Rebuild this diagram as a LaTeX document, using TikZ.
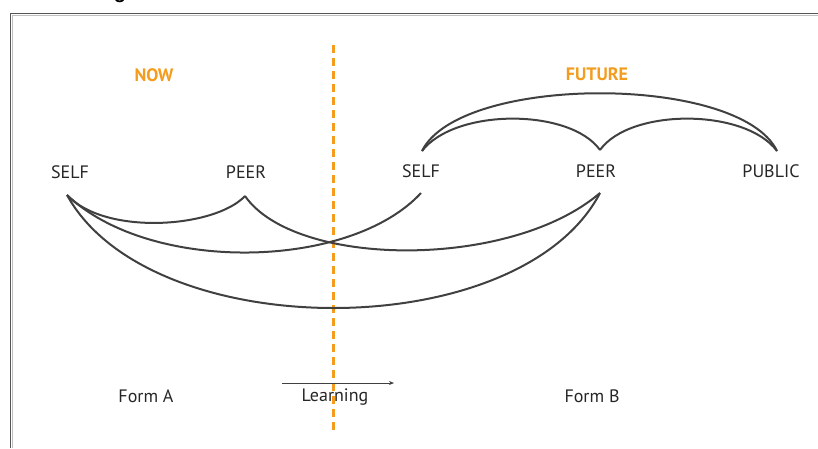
\documentclass[tikz,border=0pt]{standalone}
\usepackage{fontspec}
\setmainfont{PT Sans}
\newfontfamily\titlefont{Liberation Sans}
\usetikzlibrary{arrows.meta}
\definecolor{linegray}{HTML}{404040}
\definecolor{txtgray}{HTML}{262626}
\definecolor{orangeA}{HTML}{F39C1E}
\definecolor{framegray}{HTML}{555555}
\tikzset{
  lbl/.style={font=\fontsize{18}{20}\selectfont, text=txtgray, inner sep=0pt},
  head/.style={font=\fontsize{18}{20}\selectfont\bfseries, text=orangeA, inner sep=0pt},
  arc/.style={draw=linegray, line width=2pt},
  divider/.style={draw=orangeA, line width=3pt, dash pattern=on 8pt off 5pt},
}
\begin{document}
\begin{tikzpicture}[x=1pt, y=-1pt]
\useasboundingbox (0,0) rectangle (818,448);
% partial title (cut off at the top edge, as in the reference)
\node[anchor=base, inner sep=0pt, font=\titlefont\fontsize{20}{22}\selectfont\bfseries] (title) at (120,-2) {g};
% frame
\draw[draw=gray!50, line width=1.5pt] (12.5,448) -- (12.5,15.5) -- (818,15.5);
\draw[draw=framegray, line width=1.5pt] (10.5,448) -- (10.5,13.5) -- (818,13.5);
% divider
\coordinate (dtop) at (333,45);
\coordinate (dbot) at (333,434);
\draw[divider] (dtop) -- (dbot);
% headings
\node[head] (now) at (154,75) {NOW};
\node[head] (future) at (597,74) {FUTURE};
% labels
\node[lbl] (selfL) at (70,172) {SELF};
\node[lbl] (peerL) at (246,172) {PEER};
\node[lbl] (selfR) at (421,171) {SELF};
\node[lbl] (peerR) at (596,171) {PEER};
\node[lbl] (public) at (771,171) {PUBLIC};
\node[lbl] (formA) at (146,396) {Form A};
\node[lbl] (learning) at (335,397) {Learning};
\node[lbl] (formB) at (592,396) {Form B};
% connector points
\coordinate (sLb) at (67,195);
\coordinate (pLb) at (245,196);
\coordinate (sRb) at (421,193);
\coordinate (pRb) at (600,193);
\coordinate (sRt) at (422,151);
\coordinate (pRt) at (600,150);
\coordinate (pubt) at (777,151);
% lower arcs
\draw[arc] (sLb) .. controls (105,236) and (215,228) .. (pLb);
\draw[arc] (sLb) .. controls (150,274) and (350,270) .. (sRb);
\draw[arc] (pLb) .. controls (295,268) and (510,270) .. (pRb);
\draw[arc] (sLb) .. controls (150,346) and (520,346) .. (pRb);
% upper arcs
\draw[arc] (sRt) .. controls (460,74) and (740,74) .. (pubt);
\draw[arc] (sRt) .. controls (455,108) and (570,108) .. (pRt);
\draw[arc] (pRt) .. controls (630,108) and (745,108) .. (pubt);
% learning arrow
\coordinate (arS) at (282,383);
\coordinate (arE) at (394,383);
\draw[draw=linegray, line width=0.9pt, -{Stealth[length=5pt,width=4pt]}] (arS) -- (arE);
\end{tikzpicture}
\end{document}
